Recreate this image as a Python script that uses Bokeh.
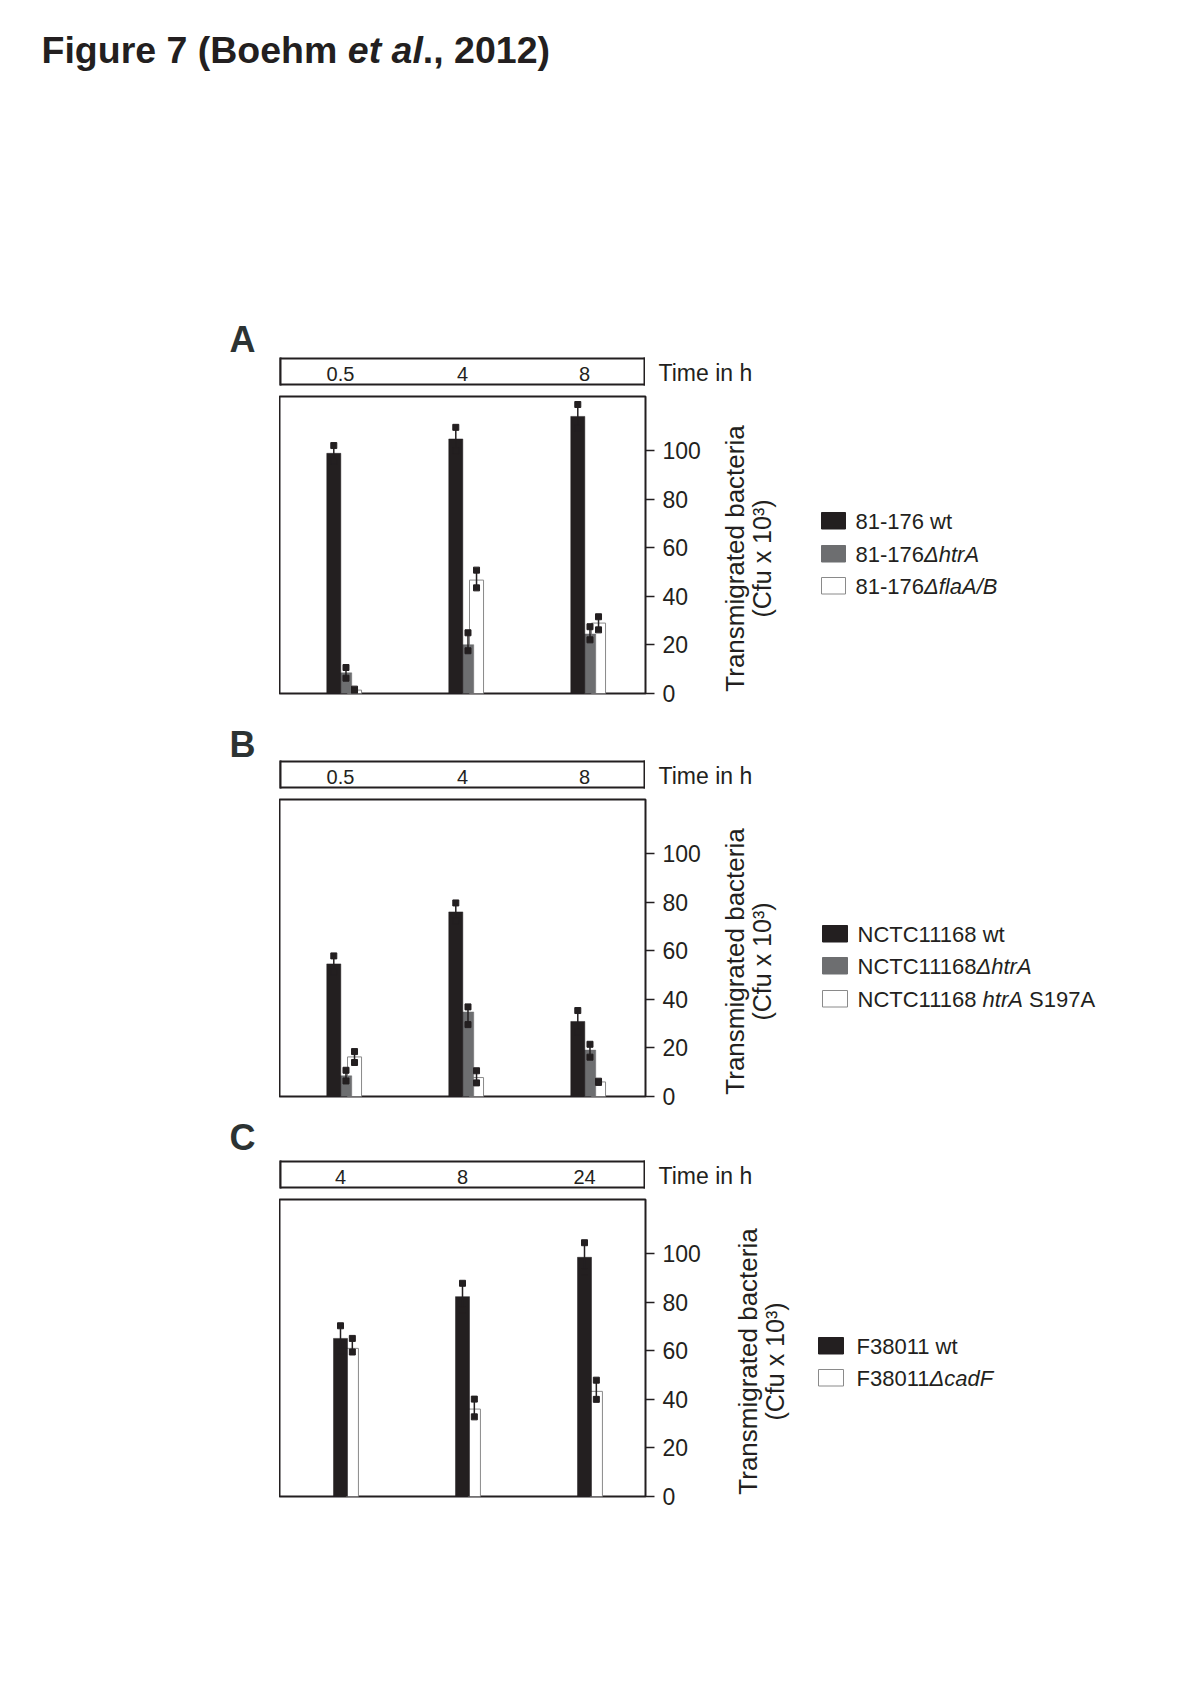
import math
from bokeh.plotting import figure
from bokeh.models import Range1d, FactorRange, FixedTicker, ColumnDataSource, Spacer
from bokeh.layouts import column, row
from bokeh.transform import dodge
from bokeh.core.properties import value
from bokeh.embed import file_html
from bokeh.resources import INLINE

# ------------------------------------------------------------------ data
A_times = ["0.5", "4", "8"]
A_wt = [98.9, 104.8, 114.1]
A_wt_hi = [102.1, 109.6, 119.0]
A_wt_lo = [95.7, 100.0, 109.2]
A_htrA = [8.5, 20.1, 24.5]
A_htrA_hi = [10.7, 25.0, 27.5]
A_htrA_lo = [6.3, 17.6, 22.1]
A_flaAB = [1.4, 46.7, 29.0]
A_flaAB_hi = [1.8, 50.8, 31.6]
A_flaAB_lo = [1.2, 43.5, 26.2]

B_times = ["0.5", "4", "8"]
B_wt = [54.6, 76.0, 30.9]
B_wt_hi = [57.9, 79.7, 35.4]
B_wt_lo = [51.3, 72.3, 26.4]
B_htrA = [8.5, 34.8, 19.1]
B_htrA_hi = [10.8, 36.9, 21.5]
B_htrA_lo = [6.4, 29.6, 16.2]
B_S197A = [16.3, 7.8, 6.0]
B_S197A_hi = [18.5, 10.6, 6.3]
B_S197A_lo = [14.0, 5.6, 5.8]

C_times = ["4", "8", "24"]
C_wt = [65.1, 82.3, 98.5]
C_wt_hi = [70.3, 87.8, 104.5]
C_wt_lo = [59.9, 76.8, 92.5]
C_cadF = [61.0, 36.0, 43.3]
C_cadF_hi = [65.1, 40.1, 47.9]
C_cadF_lo = [59.5, 32.8, 40.0]

Y_TICKS = [0, 20, 40, 60, 80, 100]
Y_MAX = 122.3

A_labels = [[("81-176 wt", False)],
            [("81-176", False), ("\u0394htrA", True)],
            [("81-176", False), ("\u0394flaA/B", True)]]
B_labels = [[("NCTC11168 wt", False)],
            [("NCTC11168", False), ("\u0394htrA", True)],
            [("NCTC11168 ", False), ("htrA", True), (" S197A", False)]]
C_labels = [[("F38011 wt", False)],
            [("F38011", False), ("\u0394cadF", True)]]

TITLE_PARTS = [("Figure 7 (Boehm ", False), ("et al", True), ("., 2012)", False)]
TIME_LABEL = "Time in h"
Y_TITLE_1 = "Transmigrated bacteria"
Y_TITLE_2 = "(Cfu x 10\u00b3)"

# ------------------------------------------------------------------ style
FONT = "Liberation Sans"
INK = "#231f20"
GRAY = "#6d6e70"
LETTER = "#2c3333"
WHITE_LINE = "#8a8a8a"
PAGE_W = 1200
FRAME_L, FRAME_R = 279, 645      # plot frame, page px
AXIS_R = 712                     # end of the tick-label strip
HDR_PAD = 4                      # space kept below the time box

W_REG = {' ': 278, '-': 333, '/': 278, 'A': 667, 'B': 667, 'C': 722, 'F': 611,
         'N': 722, 'S': 667, 'T': 611, 'a': 556, 'c': 500, 'd': 556, 'f': 278,
         'h': 556, 'l': 222, 'r': 333, 't': 278, 'w': 722, '\u0394': 668}
W_BOLD = {'F': 611, 'i': 278, 'g': 611, 'u': 611, 'r': 389, 'e': 556, ' ': 278,
          '(': 333, ')': 333, 'B': 722, 'o': 611, 'h': 611, 'm': 889, 't': 333,
          'a': 556, 'l': 278, '.': 278, ',': 278}
KERN = {('1', '1'): -74}


def tw(s, size, bold=False):
    table = W_BOLD if bold else W_REG
    w = sum(table.get(ch, 556) for ch in s)
    w += sum(KERN.get((a, b), 0) for a, b in zip(s, s[1:]))
    return w / 1000.0 * size


def canvas(x0, x1, y0, y1, top=0, bottom=0):
    """A text/decoration area; its frame maps page px (y0..y1 = frame)."""
    p = figure(width=int(x1 - x0), height=int(y1 - y0 + top + bottom),
               x_range=Range1d(x0, x1), y_range=Range1d(y1, y0),
               x_axis_type=None, y_axis_type=None, toolbar_location=None,
               output_backend="svg", min_border=0, min_border_top=top,
               min_border_bottom=bottom, min_border_left=0, min_border_right=0,
               title=None)
    p.outline_line_color = None
    p.background_fill_color = "white"
    p.border_fill_color = "white"
    return p


def txt(p, x, yc, s, size, style="normal", align="left", angle=0.0, color=INK):
    """yc = vertical centre of the capitals (page px)."""
    p.text(x=[x], y=[yc + 0.05 * size], text=[s], text_font=value(FONT),
           text_font_size=f"{size}px", text_font_style=style,
           text_align=align, text_baseline="middle", angle=angle,
           text_color=color)


def rich(p, x, yc, parts, size, bold=False):
    cx = x
    for s, it in parts:
        st = s.lstrip(" ")
        cx += tw(s[:len(s) - len(st)], size, bold)
        if bold and it:
            style = "bold italic"
        elif bold:
            style = "bold"
        elif it:
            style = "italic"
        else:
            style = "normal"
        txt(p, cx, yc, st, size, style=style)
        cx += tw(st, size, bold)


def build_panel(letter, times, series, labels, g):
    top = g["top"]
    box_top, box_bot = g["box"]
    fr_top, fr_bot = g["frame"]
    end = g["end"]
    hdr_bot = box_bot + HDR_PAD
    hdr_h = hdr_bot - top
    b_top = fr_top - hdr_bot
    b_bot = end - fr_bot
    main_h = end - hdr_bot

    # --- header row: letter | time box | "Time in h"  (all frames full height)
    left = canvas(0, FRAME_L, top, hdr_bot)
    txt(left, 229, g["letter_c"], letter, 36, style="bold", color=LETTER)

    xr = FactorRange(factors=times)
    hdr = figure(width=FRAME_R - FRAME_L, height=hdr_h, x_range=xr,
                 y_range=Range1d(hdr_bot, top),
                 x_axis_type=None, y_axis_type=None, toolbar_location=None,
                 output_backend="svg", min_border=0, min_border_left=0,
                 min_border_right=0, min_border_top=0, min_border_bottom=0,
                 title=None)
    hdr.outline_line_color = None
    hdr.border_fill_color = "white"
    edges = ColumnDataSource(dict(a=[times[0]], b=[times[-1]]))
    hdr.quad(left=dodge("a", -0.5, range=xr), right=dodge("b", 0.5, range=xr),
             top=box_top, bottom=box_bot, source=edges, fill_color=None,
             line_color=INK, line_width=2)
    for col, off in (("a", -0.5), ("b", 0.5)):
        hdr.segment(x0=dodge(col, off, range=xr), x1=dodge(col, off, range=xr),
                    y0=box_top - 1, y1=box_bot + 1, source=edges,
                    line_color=INK, line_width=4)
    yc = (box_top + box_bot) / 2.0 + 1.5
    hdr.text(x=times, y=[yc + 1.0] * len(times), text=times,
             text_font=value(FONT), text_font_size="20px", text_align="center",
             text_baseline="middle", text_color=INK)

    time_c = canvas(FRAME_R, PAGE_W, top, hdr_bot)
    txt(time_c, 658, (box_top + box_bot) / 2.0, TIME_LABEL, 23)

    # --- main plot
    p = figure(width=AXIS_R - FRAME_L, height=main_h, x_range=xr,
               y_range=Range1d(0, Y_MAX), x_axis_type=None,
               y_axis_location="right", toolbar_location=None,
               output_backend="svg", min_border=0, min_border_left=0,
               min_border_right=AXIS_R - FRAME_R, min_border_top=b_top,
               min_border_bottom=b_bot, title=None)
    p.ygrid.visible = False
    p.outline_line_color = INK
    p.outline_line_width = 2
    p.border_fill_color = "white"
    ax = p.yaxis[0]
    ax.ticker = FixedTicker(ticks=Y_TICKS)
    ax.axis_line_color = None
    ax.major_tick_out = 9
    ax.major_tick_in = 0
    ax.minor_tick_out = 0
    ax.minor_tick_in = 0
    ax.major_tick_line_color = INK
    ax.major_tick_line_width = 1.5
    ax.major_label_text_font = FONT
    ax.major_label_text_font_size = "23px"
    ax.major_label_text_color = INK
    ax.major_label_standoff = 8

    srcs = []
    for vals, hi, lo, fill, line, off, w in series:
        src = ColumnDataSource(dict(t=times, v=vals, hi=hi, lo=lo))
        srcs.append((src, off))
        p.vbar(x=dodge("t", off, range=xr), top="v", bottom=0, width=w,
               source=src, fill_color=fill,
               line_color=line if line else fill, line_width=1 if line else 0.5)
    for src, off in srcs:
        p.segment(x0=dodge("t", off, range=xr), y0="lo",
                  x1=dodge("t", off, range=xr), y1="hi", source=src,
                  line_color=INK, line_width=1.5)
    for src, off in srcs:
        for col in ("hi", "lo"):
            p.scatter(x=dodge("t", off, range=xr), y=col, source=src,
                      marker="square", size=6, fill_color=INK, line_color=INK)

    # --- right side: axis title + legend (same vertical borders as the plot)
    right = canvas(AXIS_R, PAGE_W, fr_top, fr_bot, top=b_top, bottom=b_bot)
    tx = g["ytitle_x"]
    cy = g["ytitle_c"]
    rot = math.pi / 2
    right.text(x=[tx], y=[cy], text=[Y_TITLE_1], text_font=value(FONT),
               text_font_size="26px", text_align="center", text_baseline="middle",
               angle=rot, text_color=INK)
    right.text(x=[tx + 27], y=[cy], text=[Y_TITLE_2], text_font=value(FONT),
               text_font_size="25px", text_align="center", text_baseline="middle",
               angle=rot, text_color=INK)

    sx0, sx1 = g["sq_x"]
    fills = [INK, GRAY, "white"] if len(labels) == 3 else [INK, "white"]
    for i, parts in enumerate(labels):
        t0 = g["rows"][i]
        fill = fills[i]
        lc = WHITE_LINE if fill == "white" else fill
        right.quad(left=[sx0], right=[sx1], top=[t0], bottom=[t0 + 16.5],
                   fill_color=fill, line_color=lc, line_width=1)
        rich(right, g["text_x"], t0 + 8.2, parts, 22)

    return column(row(left, hdr, time_c),
                  row(Spacer(width=FRAME_L, height=main_h), p, right))


# ------------------------------------------------------------------ figure
title = canvas(0, PAGE_W, 0, 296)
rich(title, 41, 48, TITLE_PARTS, 37.5, bold=True)

A_series = [
    (A_flaAB, A_flaAB_hi, A_flaAB_lo, "white", WHITE_LINE, 0.115, 0.115),
    (A_htrA, A_htrA_hi, A_htrA_lo, GRAY, None, 0.045, 0.094),
    (A_wt, A_wt_hi, A_wt_lo, INK, None, -0.055, 0.115),
]
B_series = [
    (B_S197A, B_S197A_hi, B_S197A_lo, "white", WHITE_LINE, 0.115, 0.115),
    (B_htrA, B_htrA_hi, B_htrA_lo, GRAY, None, 0.045, 0.094),
    (B_wt, B_wt_hi, B_wt_lo, INK, None, -0.055, 0.115),
]
C_series = [
    (C_cadF, C_cadF_hi, C_cadF_lo, "white", WHITE_LINE, 0.097, 0.1),
    (C_wt, C_wt_hi, C_wt_lo, INK, None, 0.0, 0.115),
]

gA = dict(top=296, box=(358, 384), frame=(396, 693), end=714, letter_c=337,
          ytitle_x=734, ytitle_c=558, sq_x=(821, 845), rows=[512, 545, 577],
          text_x=855)
gB = dict(top=714, box=(761, 787), frame=(799, 1096), end=1111, letter_c=742.5,
          ytitle_x=734, ytitle_c=961, sq_x=(822, 847), rows=[925, 957, 990],
          text_x=857)
gC = dict(top=1111, box=(1161, 1187), frame=(1199, 1496), end=1520,
          letter_c=1135, ytitle_x=747, ytitle_c=1361, sq_x=(818, 843),
          rows=[1337, 1369], text_x=856)

pA = build_panel("A", A_times, A_series, A_labels, gA)
pB = build_panel("B", B_times, B_series, B_labels, gB)
pC = build_panel("C", C_times, C_series, C_labels, gC)

layout = column(title, pA, pB, pC)
open("out.html", "w").write(file_html(layout, INLINE))
